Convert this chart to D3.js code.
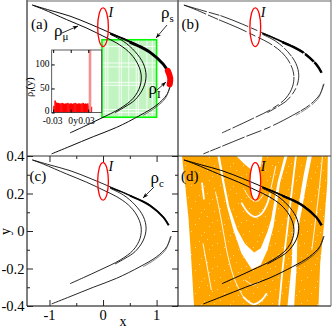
<!DOCTYPE html>
<html>
<head>
<meta charset="utf-8">
<script src="https://cdnjs.cloudflare.com/ajax/libs/d3/7.8.5/d3.min.js"></script>
<style>
html, body { margin: 0; padding: 0; background: #fff; }
svg { display: block; }
text { font-family: "Liberation Serif", serif; fill: #000; }
</style>
</head>
<body>
<svg id="chart" width="332" height="328"></svg>
<script>
// strands of the attractor, [x, y]
var outerUpper = [[-1.32,.379],[-.99,.352],[-.617,.322],[-.243,.281],[.131,.236],[.567,.183],[.879,.139],[1.128,.076],[1.234,.032]];
var outerLower = [[1.271,-.027],[1.19,-.084],[1.003,-.137],[.692,-.19],[.255,-.252],[-.181,-.30],[-.617,-.35],[-.96,-.389]];
var midStrand = [[-1.32,.379],[-1.115,.357],[-.68,.304],[-.305,.26],[0,.219],[.255,.183],[.474,.139],[.629,.085],[.71,.023],[.692,-.039],[.567,-.101],[.318,-.155],[-.056,-.208],[-.368,-.249],[-.617,-.281]];
var innerStrand = [[.131,.228],[.38,.192],[.598,.139],[.754,.076],[.804,.014],[.754,-.048],[.598,-.11],[.411,-.146],[.224,-.176]];
var mediumArm = [[.13,.233],[.35,.208],[.6,.176]];
var thickArm = [[.5,.188],[.7,.163],[.879,.135],[1.128,.073],[1.225,.03]];
var lowerTwin = [[1.255,-.03],[1.17,-.1],[.98,-.15],[.75,-.19]];
var redBlob = [[1.21,.04],[1.255,.002],[1.245,-.03]];

// inset histogram
var histX = [-.029,-.027,-.025,-.023,-.021,-.019,-.017,-.015,-.013,-.011,-.009,-.007,-.005,-.003,-.001,.001,.003,.005,.007,.009,.011,.013,.015,.017,.019,.021,.023,.025,.027,.029,.031,.033,.035];
var histY = [14,25,21,20,20,19,19,20,19,18,19,19,20,18,19,19,18,19,20,19,18,19,19,18,19,20,18,19,18,19,14,14,12];
var histTicksY = [0,50,100];
var histTicksX = [-.03,0,.03];

var xMajor = [-1,0,1];
var xMinor = [-.5,.5];
var yMajor = [-.4,-.2,0,.2,.4];
var yMinor = [-.3,-.1,.1,.3];

// panel (d) basin, outlines
var basinOutline = [[-1.356,.4],[-1.30,.254],[-1.238,.076],[-1.195,-.101],[-1.133,-.4],[1.169,-.4],[1.2,-.172],[1.274,.041],[1.33,.254],[1.342,.4]];
var bigGap = [[-.7,.4],[-.63,.29],[-.522,.13],[-.405,.005],[-.257,-.119],[-.065,-.204],[.101,-.181],[.225,-.101],[.336,.023],[.459,.258],[.595,.4],
	[.54,.4],[.41,.258],[.293,.062],[.225,-.004],[.101,-.092],[-.022,-.114],[-.189,-.069],[-.33,.005],[-.48,.13],[-.59,.29],[-.655,.4]];
var topGap = [[-.349,.4],[-.226,.364],[-.072,.325],[.101,.343],[.132,.4]];
var rightGap = [[.965,.4],[.891,.293],[.799,.133],[.694,-.005],[.675,-.172],[.595,-.4],[.719,-.4],[.768,-.172],[.78,-.005],[.873,.133],[.972,.293],[1.046,.4]];
var wideLines = [
	[[-.257,.151],[-.133,.098],[-.004,.075],[.12,.094],[.212,.139],[.275,.2]],
	[[-.226,-.35],[-.035,-.391],[.12,-.368],[.212,-.332]],
	[[.751,.4],[.657,.169],[.552,-.084],[.503,-.208],[.441,-.4]],
	[[-.985,.258],[-.948,.169]]
];
var thinLines = [
	[[-.738,.21],[-.664,.112],[-.596,.005],[-.504,-.137],[-.38,-.261],[-.226,-.35]],
	[[-.189,-.261],[-.034,-.288],[.089,-.265]],
	[[.379,.347],[.286,.222]],
	[[1.243,.4],[1.182,.222],[1.046,-.101]],
	[[-.967,-.066],[-.812,-.315]],
	[[-.2,.22],[-.08,.17],[.05,.16],[.16,.2]]
];

var gridX = [.05,.09,.3,.34,.48,.62,.66,.82,.92];
var gridY = [.165,.08,.06,-.02,-.035,-.16,-.175];

var svg = d3.select("#chart");
var xDom = [-1.42,1.4];
var yDom = [-.4,.4];
var xLeft = d3.scaleLinear().domain(xDom).range([27,178]);
var xRight = d3.scaleLinear().domain(xDom).range([178.5,331]);
var yTop = d3.scaleLinear().domain(yDom).range([156,1]);
var yBot = d3.scaleLinear().domain(yDom).range([306,156]);

var defs = svg.append("defs");
var speck = defs.append("pattern").attr("id","speck").attr("patternUnits","userSpaceOnUse")
	.attr("width",29).attr("height",23);
speck.append("rect").attr("width",29).attr("height",23).attr("fill","#ffa500");
[[1,2],[6,19],[11,4],[25,11],[4,9],[17,1],[21,17],[14,13],[9,15],[27,5]].forEach(function(p){
	speck.append("rect").attr("x",p[0]).attr("y",p[1]).attr("width",1).attr("height",1)
		.attr("fill","#ffd58a");
});
defs.append("clipPath").attr("id","clipD").append("rect")
	.attr("x",178.5).attr("y",156).attr("width",152.5).attr("height",150);
defs.append("marker").attr("id","head").attr("viewBox","0 0 8 6").attr("refX",8).attr("refY",3)
	.attr("markerWidth",7).attr("markerHeight",5).attr("orient","auto")
	.append("path").attr("d","M0,0L8,3L0,6L2,3Z").attr("fill","#000");

function curve(xS, yS){
	return d3.line().x(function(d){return xS(d[0]);}).y(function(d){return yS(d[1]);}).curve(d3.curveCatmullRom);
}

function strands(g, xS, yS, w, thick, dash){
	var line = curve(xS,yS);
	[outerUpper,outerLower,midStrand,innerStrand].forEach(function(s){
		g.append("path").attr("d",line(s)).attr("fill","none").attr("stroke","#000")
			.attr("stroke-width",w).attr("stroke-dasharray",dash);
	});
	g.append("path").attr("d",line(lowerTwin)).attr("fill","none").attr("stroke","#333")
		.attr("stroke-width",w*.7).attr("stroke-dasharray",dash);
	g.append("path").attr("d",line(mediumArm)).attr("fill","none").attr("stroke","#000")
		.attr("stroke-width",(w+thick)/2).attr("stroke-dasharray",dash);
	g.append("path").attr("d",line(thickArm)).attr("fill","none").attr("stroke","#000")
		.attr("stroke-width",thick).attr("stroke-dasharray",dash);
}

function ellipse(g, xS, yS){
	g.append("ellipse").attr("cx",xS(0)).attr("cy",yS(.265))
		.attr("rx",xS(.1)-xS(0)).attr("ry",yS(.165)-yS(.265))
		.attr("fill","none").attr("stroke","#f00").attr("stroke-width",1.3);
	g.append("text").attr("x",xS(.1)).attr("y",yS(.32)).attr("font-size",14).attr("font-style","italic").text("I");
}

function label(x, y, size, str){
	return svg.append("text").attr("x",x).attr("y",y).attr("font-size",size).text(str);
}

function arrow(x1, y1, x2, y2){
	svg.append("line").attr("x1",x1).attr("y1",y1).attr("x2",x2).attr("y2",y2)
		.attr("stroke","#000").attr("stroke-width",.8).attr("marker-end","url(#head)");
}

// panel a
var pa = svg.append("g");
var gl = curve(xLeft,yTop);
pa.append("rect").attr("x",xLeft(-.02)).attr("y",yTop(.2))
	.attr("width",xLeft(1)-xLeft(-.02)).attr("height",yTop(-.2)-yTop(.2))
	.attr("fill","#c2f4c2").attr("stroke","none");
gridX.forEach(function(v){
	pa.append("line").attr("x1",xLeft(v)).attr("x2",xLeft(v)).attr("y1",yTop(.2)).attr("y2",yTop(-.2))
		.attr("stroke","#fff").attr("stroke-width",.8);
});
gridY.forEach(function(v){
	pa.append("line").attr("y1",yTop(v)).attr("y2",yTop(v)).attr("x1",xLeft(-.02)).attr("x2",xLeft(1))
		.attr("stroke","#fff").attr("stroke-width",.8);
});
pa.append("rect").attr("x",xLeft(-.02)).attr("y",yTop(.2))
	.attr("width",xLeft(1)-xLeft(-.02)).attr("height",yTop(-.2)-yTop(.2))
	.attr("fill","none").attr("stroke","#00f800").attr("stroke-width",1.6);
strands(pa,xLeft,yTop,.95,3);
pa.append("path").attr("d",gl(redBlob)).attr("fill","none").attr("stroke","#f00")
	.attr("stroke-width",6).attr("stroke-linecap","round");
ellipse(pa,xLeft,yTop);

// inset
var ix = d3.scaleLinear().domain([-.0325,.053]).range([51.7,101.7]);
var iy = d3.scaleLinear().domain([0,130]).range([112.5,50]);
var inset = svg.append("g");
inset.append("rect").attr("x",51.7).attr("y",50).attr("width",50).attr("height",62.5).attr("fill","#fff");
inset.selectAll("rect.bar").data(histX).enter().append("rect").attr("class","bar")
	.attr("x",function(d){return ix(d-.001);})
	.attr("width",ix(.002)-ix(0)+.4)
	.attr("y",function(d,i){return iy(histY[i]);})
	.attr("height",function(d,i){return iy(0)-iy(histY[i]);})
	.attr("fill","#f00");
inset.append("line").attr("x1",ix(.033)).attr("x2",ix(.033)).attr("y1",iy(0)).attr("y2",iy(130))
	.attr("stroke","#f49090").attr("stroke-width",2.6);
inset.append("rect").attr("x",51.7).attr("y",50).attr("width",50).attr("height",62.5)
	.attr("fill","none").attr("stroke","#333").attr("stroke-width",.8);
inset.append("g").attr("transform","translate(51.7,0)")
	.call(d3.axisRight(iy).tickValues(histTicksY).tickSize(3).tickFormat(""))
	.call(function(a){a.select(".domain").remove();});
inset.append("g").attr("transform","translate(0,112.5)")
	.call(d3.axisTop(ix).tickValues(histTicksX).tickSize(3).tickFormat(""))
	.call(function(a){a.select(".domain").remove();});
inset.append("g").attr("transform","translate(0,50)")
	.call(d3.axisBottom(ix).tickValues(histTicksX).tickSize(3).tickFormat(""))
	.call(function(a){a.select(".domain").remove();});
histTicksY.forEach(function(v){
	label(49.5,iy(v)+(v == 0 ? 1.5 : 3),9.5,v).attr("text-anchor","end");
});
label(52.7,124,9.5,"-0.03").attr("text-anchor","middle");
label(70.5,124,9.5,"0").attr("text-anchor","middle");
label(75.5,124,9.5,"y").attr("text-anchor","middle");
label(86.5,124,9.5,"0.03").attr("text-anchor","middle");
var il = svg.append("text").attr("transform","translate(33,97) rotate(-90)").attr("font-size",10.5);
il.append("tspan").text("ρ");
il.append("tspan").attr("font-size",7).attr("dy",2).text("I");
il.append("tspan").attr("dy",-2).text("(y)");

// panel b
var pb = svg.append("g");
strands(pb,xRight,yTop,.8,2.4,"24 2 11 1 30 3 7 3 16 2");
ellipse(pb,xRight,yTop);

// panel c
var pc = svg.append("g");
strands(pc,xLeft,yBot,.85,1.8);
ellipse(pc,xLeft,yBot);

// panel d
var pd = svg.append("g").attr("clip-path","url(#clipD)");
var poly = d3.line().x(function(d){return xRight(d[0]);}).y(function(d){return yBot(d[1]);}).curve(d3.curveLinearClosed);
pd.append("path").attr("d",poly(basinOutline)).attr("fill","url(#speck)");
[bigGap,topGap,rightGap].forEach(function(s){
	pd.append("path").attr("d",poly(s)).attr("fill","#fff");
});
var dl = curve(xRight,yBot);
wideLines.forEach(function(s){
	pd.append("path").attr("d",dl(s)).attr("fill","none").attr("stroke","#fff").attr("stroke-width",1.8);
});
thinLines.forEach(function(s){
	pd.append("path").attr("d",dl(s)).attr("fill","none").attr("stroke","#fff").attr("stroke-width",.9);
});
pd.append("ellipse").attr("cx",xRight(0)).attr("cy",yBot(.265))
	.attr("rx",xRight(.1)-xRight(0)).attr("ry",yBot(.165)-yBot(.265)).attr("fill","#fff");
strands(pd,xRight,yBot,1,2.4);
ellipse(svg.append("g"),xRight,yBot);

// frame
var frame = svg.append("g");
frame.append("line").attr("x1",27).attr("x2",27).attr("y1",0).attr("y2",306).attr("stroke","#000").attr("stroke-width",1);
frame.append("line").attr("x1",178).attr("x2",178).attr("y1",0).attr("y2",306).attr("stroke","#000").attr("stroke-width",1);
frame.append("line").attr("x1",27).attr("x2",331).attr("y1",156).attr("y2",156).attr("stroke","#333").attr("stroke-width",1);
frame.append("line").attr("x1",27).attr("x2",331).attr("y1",306).attr("y2",306).attr("stroke","#000").attr("stroke-width",1);
frame.append("line").attr("x1",27).attr("x2",331).attr("y1",1).attr("y2",1).attr("stroke","#666").attr("stroke-width",1);
frame.append("line").attr("x1",331).attr("x2",331).attr("y1",0).attr("y2",306).attr("stroke","#666").attr("stroke-width",1);

// axes of panel c
function ticks(axis, tr, vals, size){
	var a = svg.append("g").attr("transform",tr)
		.call(axis.tickValues(vals).tickSize(size).tickFormat(""));
	a.select(".domain").remove();
	a.selectAll("line").attr("stroke","#222");
}
ticks(d3.axisTop(xLeft),"translate(0,306)",xMajor,6);
ticks(d3.axisTop(xLeft),"translate(0,306)",xMinor,3);
ticks(d3.axisBottom(xLeft),"translate(0,156)",xMajor,6);
ticks(d3.axisBottom(xLeft),"translate(0,156)",xMinor,3);
ticks(d3.axisRight(yBot),"translate(27,0)",yMajor,6);
ticks(d3.axisRight(yBot),"translate(27,0)",yMinor,3);
ticks(d3.axisLeft(yBot),"translate(178,0)",yMajor,6);
ticks(d3.axisLeft(yBot),"translate(178,0)",yMinor,3);

xMajor.forEach(function(v){
	label(xLeft(v),320,14.5,v).attr("text-anchor","middle");
});
yMajor.forEach(function(v){
	label(24.5,yBot(v)+5,14.5,v).attr("text-anchor","end");
});
label(123,325.5,14,"x").attr("text-anchor","middle");
svg.append("text").attr("transform","translate(10,235) rotate(-90)").attr("font-size",14).text("y");

// panel letters and annotations
label(31,29,15,"(a)");
label(181.5,29,15,"(b)");
label(29.5,181,15,"(c)");
label(181,181,15,"(d)");

function rho(x, y, sub){
	var t = svg.append("text").attr("x",x).attr("y",y).attr("font-size",17);
	t.append("tspan").text("ρ");
	t.append("tspan").attr("font-size",11).attr("dy",4).text(sub);
}
rho(161,17.5,"s");
rho(54,36,"μ");
rho(148.5,94,"I");
rho(150.5,183,"c");
arrow(62,33,78,26);
arrow(167,25,156,38);
arrow(157,90,166,82);
arrow(154,187,143,198);
</script>
</body>
</html>
